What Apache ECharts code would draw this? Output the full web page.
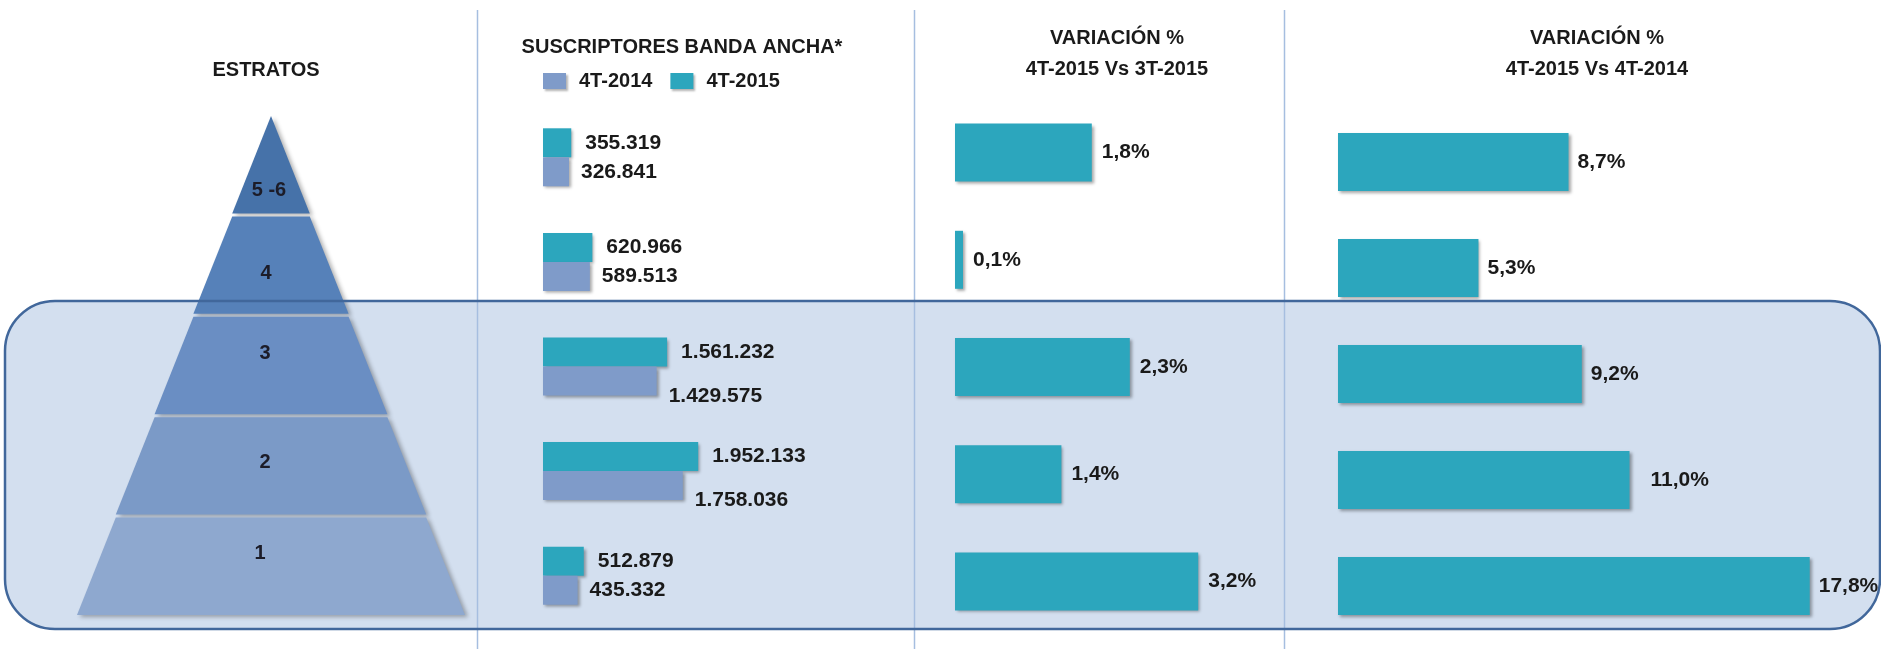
<!DOCTYPE html>
<html lang="es">
<head>
<meta charset="UTF-8">
<title>Suscriptores banda ancha por estrato</title>
<script src="https://cdn.jsdelivr.net/npm/echarts@6/dist/echarts.min.js"></script>
<style>
  html, body { margin: 0; padding: 0; background: #fff; }
  #main { width: 1881px; height: 649px; }
</style>
</head>
<body>
<div id="main"></div>
<script>
// estratos, de arriba hacia abajo
var estratos = ['5 -6', '4', '3', '2', '1'];
var legendNames = ['4T-2014', '4T-2015'];
var subs2014 = [326841, 589513, 1429575, 1758036, 435332];
var subs2015 = [355319, 620966, 1561232, 1952133, 512879];
var varTrimestral = [1.8, 0.1, 2.3, 1.4, 3.2];   // 4T-2015 Vs 3T-2015
var varAnual = [8.7, 5.3, 9.2, 11.0, 17.8];      // 4T-2015 Vs 4T-2014

var FONT = '"Liberation Sans", Arial, sans-serif';
var TEAL = '#2ca6bd';
var LAV = '#7f9bc9';
var INK = '#1a1a1a';
var pyramidColors = ['#4672a9', '#5681b9', '#6a8ec3', '#7b9ac7', '#8ea8cf'];
// desplazamiento [dx, dy] de la etiqueta respecto al centro de cada franja
var pyramidLabelShift = [[-2, 26], [-5, 8], [-6, -12], [-6, -3], [-11, -13]];

function miles(v) {
    return String(v).replace(/\B(?=(\d{3})+(?!\d))/g, '.');
}
function pct(v) {
    return v.toFixed(1).replace('.', ',') + '%';
}

// el funnel no respeta label.offset: se desplaza el texto con una línea vacía
var pyramidRich = { t: { color: '#1c1c28', fontFamily: FONT, fontWeight: 'bold', fontSize: 20, lineHeight: 22 } };
pyramidLabelShift.forEach(function (s, i) {
    pyramidRich['g' + i] = { height: Math.max(1, Math.abs(2 * s[1])), lineHeight: Math.max(1, Math.abs(2 * s[1])), fontSize: 1 };
});
function pyramidLabel(p) {
    var dy = pyramidLabelShift[p.dataIndex][1];
    var gap = '{g' + p.dataIndex + '| }';
    return dy > 0 ? gap + '\n{t|' + p.name + '}' : '{t|' + p.name + '}\n' + gap;
}
function shiftPadding(s) {
    var dx = s[0];
    return [0, Math.max(0, -2 * dx), 0, Math.max(0, 2 * dx)];
}

var chart = echarts.init(document.getElementById('main'));

var barShadow = {
    shadowColor: 'rgba(0,0,0,0.35)',
    shadowBlur: 3,
    shadowOffsetX: 2,
    shadowOffsetY: 2
};
var labelText = { fontFamily: FONT, fontWeight: 'bold', fontSize: 21, color: INK };

function hiddenCat(gridIndex) {
    return { type: 'category', gridIndex: gridIndex, data: estratos, inverse: true, show: false };
}
function hiddenVal(gridIndex, max) {
    return { type: 'value', gridIndex: gridIndex, min: 0, max: max, show: false };
}

var option = {
    backgroundColor: '#ffffff',
    animation: false,
    legend: {
        data: legendNames,
        left: 538,
        top: 66,
        icon: 'rect',
        itemWidth: 23,
        itemHeight: 16,
        itemGap: 18,
        selectedMode: false,
        itemStyle: { shadowColor: 'rgba(0,0,0,0.3)', shadowBlur: 2, shadowOffsetX: 2, shadowOffsetY: 2 },
        textStyle: { fontFamily: FONT, fontWeight: 'bold', fontSize: 20, color: INK, padding: [0, 0, 0, 8] }
    },
    grid: [
        { left: 543, top: 105, width: 159, height: 523, containLabel: false, outerBoundsMode: 'none' },
        { left: 955, top: 99, width: 304, height: 536, containLabel: false, outerBoundsMode: 'none' },
        { left: 1338, top: 109, width: 530, height: 530, containLabel: false, outerBoundsMode: 'none' }
    ],
    xAxis: [hiddenVal(0, 2000000), hiddenVal(1, 4), hiddenVal(2, 20)],
    yAxis: [hiddenCat(0), hiddenCat(1), hiddenCat(2)],
    graphic: [
        // recuadro estratos 1-3
        {
            type: 'rect', z: 0, silent: true,
            shape: { x: 5, y: 301, width: 1875, height: 328, r: 50 },
            style: { fill: '#d3dfef', stroke: null }
        },
        {
            type: 'rect', z: 50, silent: true,
            shape: { x: 5, y: 301, width: 1875, height: 328, r: 50 },
            style: { fill: null, stroke: '#41679b', lineWidth: 2.5 }
        },
        // separadores de columnas
        { type: 'line', z: 1, silent: true, shape: { x1: 477.5, y1: 10, x2: 477.5, y2: 649 }, style: { stroke: '#a6bee0', lineWidth: 1.5 } },
        { type: 'line', z: 1, silent: true, shape: { x1: 914.5, y1: 10, x2: 914.5, y2: 649 }, style: { stroke: '#a6bee0', lineWidth: 1.5 } },
        { type: 'line', z: 1, silent: true, shape: { x1: 1284.5, y1: 10, x2: 1284.5, y2: 649 }, style: { stroke: '#a6bee0', lineWidth: 1.5 } },
        // títulos
        {
            type: 'text', z: 60, x: 266, y: 70,
            style: { text: 'ESTRATOS', fontFamily: FONT, fontWeight: 'bold', fontSize: 20, fill: INK, align: 'center', verticalAlign: 'middle', textAlign: 'center', textVerticalAlign: 'middle' }
        },
        {
            type: 'text', z: 60, x: 682, y: 47,
            style: { text: 'SUSCRIPTORES BANDA ANCHA*', fontFamily: FONT, fontWeight: 'bold', fontSize: 20, fill: INK, align: 'center', verticalAlign: 'middle', textAlign: 'center', textVerticalAlign: 'middle' }
        },
        {
            type: 'text', z: 60, x: 1117, y: 53.5,
            style: { text: 'VARIACIÓN %\n4T-2015 Vs 3T-2015', lineHeight: 31, fontFamily: FONT, fontWeight: 'bold', fontSize: 20, fill: INK, align: 'center', verticalAlign: 'middle', textAlign: 'center', textVerticalAlign: 'middle' }
        },
        {
            type: 'text', z: 60, x: 1597, y: 53.5,
            style: { text: 'VARIACIÓN %\n4T-2015 Vs 4T-2014', lineHeight: 31, fontFamily: FONT, fontWeight: 'bold', fontSize: 20, fill: INK, align: 'center', verticalAlign: 'middle', textAlign: 'center', textVerticalAlign: 'middle' }
        }
    ],
    series: [
        {
            name: '4T-2015',
            type: 'bar',
            z: 5,
            xAxisIndex: 0, yAxisIndex: 0,
            barWidth: 29,
            barGap: '0%',
            itemStyle: Object.assign({ color: TEAL }, barShadow),
            label: Object.assign({ show: true, position: 'right', distance: 14, formatter: function (p) { return miles(p.value); } }, labelText),
            data: subs2015
        },
        {
            name: '4T-2014',
            type: 'bar',
            z: 5,
            xAxisIndex: 0, yAxisIndex: 0,
            barWidth: 29,
            barGap: '0%',
            itemStyle: Object.assign({ color: LAV }, barShadow),
            label: Object.assign({ show: true, position: 'right', distance: 12, formatter: function (p) { return miles(p.value); } }, labelText),
            // en los estratos 3 y 2 la etiqueta baja un poco
            data: subs2014.map(function (v, i) {
                return (i === 2 || i === 3) ? { value: v, label: { offset: [0, 15] } } : v;
            })
        },
        {
            name: 'Var 4T-2015 Vs 3T-2015',
            type: 'bar',
            z: 5,
            xAxisIndex: 1, yAxisIndex: 1,
            barWidth: 58,
            barMinHeight: 8,
            itemStyle: Object.assign({ color: TEAL }, barShadow),
            label: Object.assign({ show: true, position: 'right', distance: 10, formatter: function (p) { return pct(p.value); } }, labelText),
            data: varTrimestral
        },
        {
            name: 'Var 4T-2015 Vs 4T-2014',
            type: 'bar',
            z: 5,
            xAxisIndex: 2, yAxisIndex: 2,
            barWidth: 58,
            itemStyle: Object.assign({ color: TEAL }, barShadow),
            label: Object.assign({ show: true, position: 'right', distance: 9, formatter: function (p) { return pct(p.value); } }, labelText),
            data: varAnual.map(function (v, i) {
                return i === 3 ? { value: v, label: { offset: [12, 0] } } : v;
            })
        },
        {
            name: 'Estratos',
            type: 'funnel',
            z: 5,
            left: 77,
            top: 116,
            width: 388,
            height: 499,
            min: 0,
            max: estratos.length,
            minSize: '0%',
            maxSize: '100%',
            sort: 'ascending',
            gap: 3,
            itemStyle: {
                borderWidth: 0,
                shadowColor: 'rgba(0,0,0,0.3)',
                shadowBlur: 4,
                shadowOffsetX: 3,
                shadowOffsetY: 2
            },
            label: {
                show: true,
                position: 'inside',
                color: '#1c1c28',
                fontFamily: FONT,
                fontWeight: 'bold',
                fontSize: 20,
                formatter: pyramidLabel,
                rich: pyramidRich
            },
            labelLine: { show: false },
            emphasis: { disabled: true },
            // la cima de la pirámide es el estrato más alto
            data: estratos.map(function (name, i) {
                return {
                    name: name,
                    value: i + 1,
                    itemStyle: { color: pyramidColors[i] },
                    label: { padding: shiftPadding(pyramidLabelShift[i]) }
                };
            })
        }
    ]
};

chart.setOption(option);
</script>
</body>
</html>
